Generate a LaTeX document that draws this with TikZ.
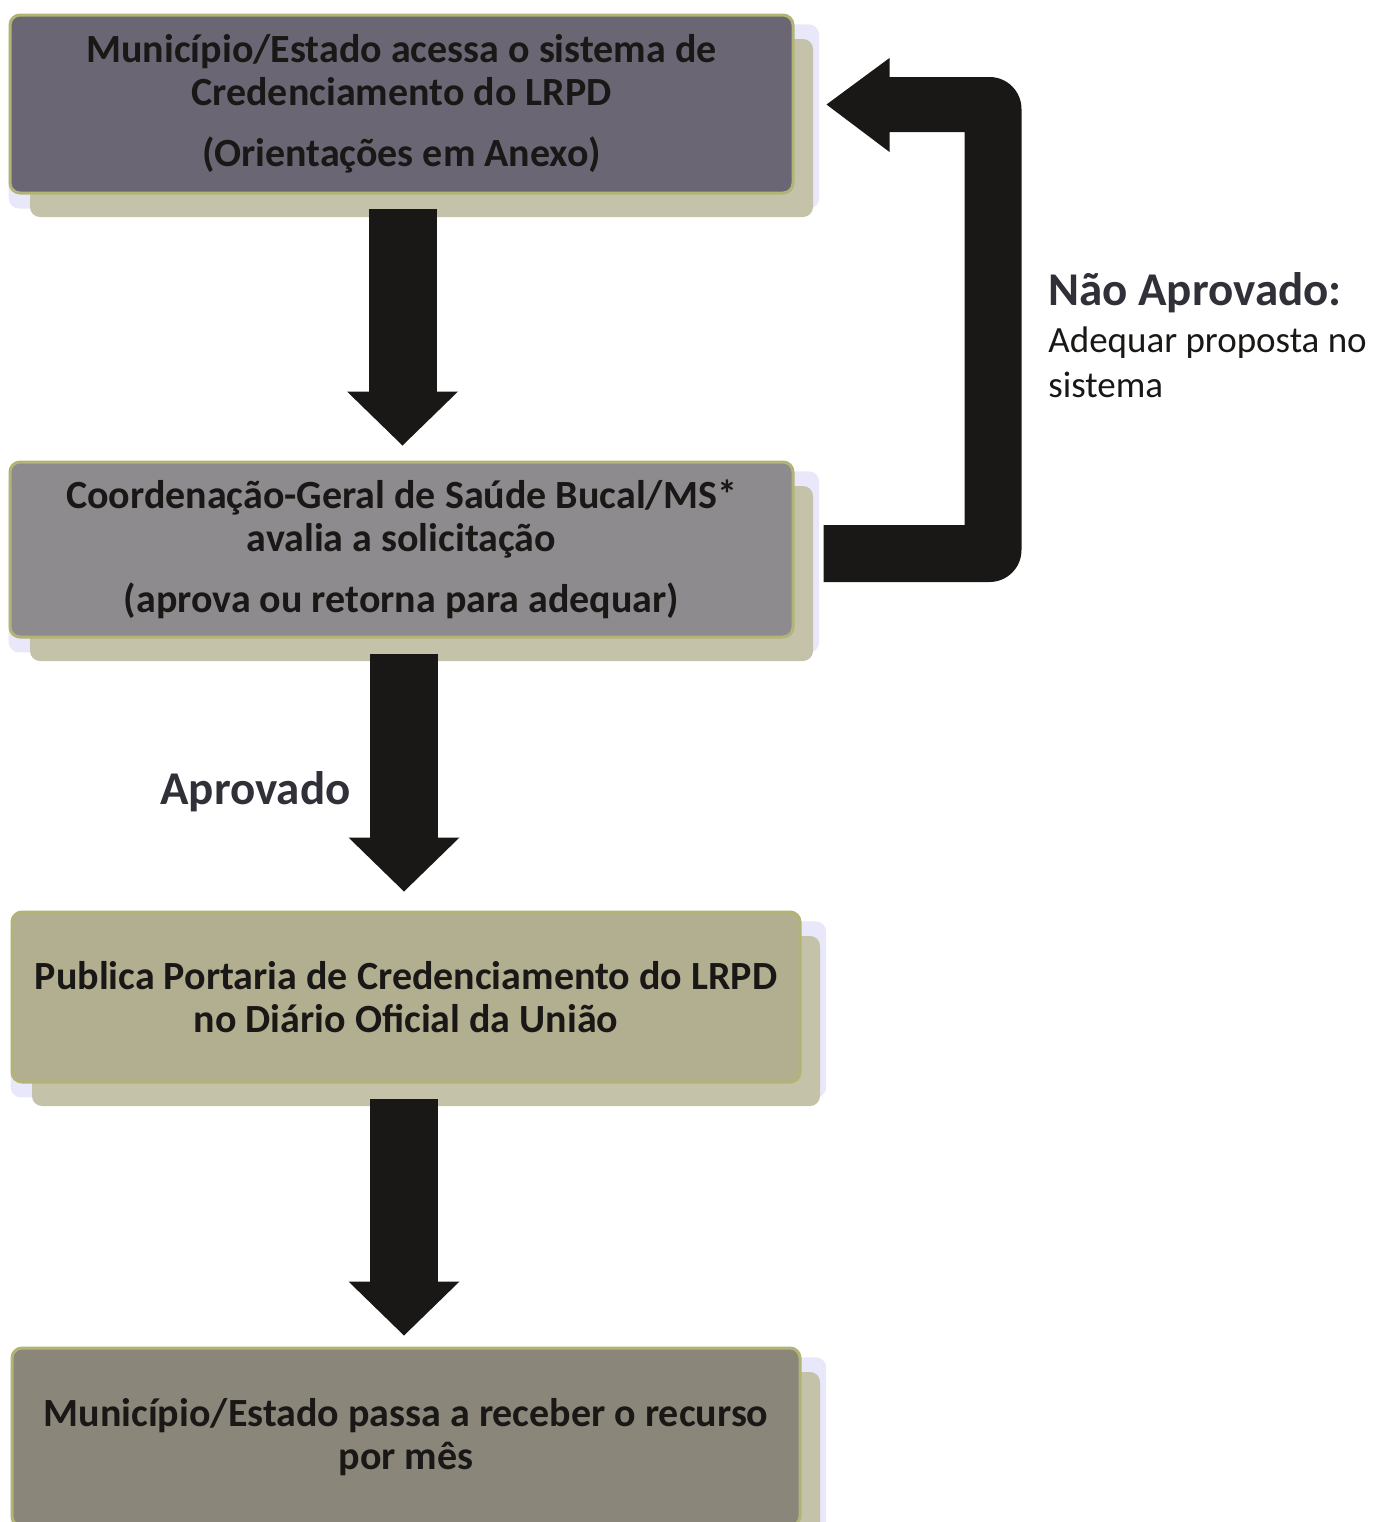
\documentclass[tikz,border=0pt]{standalone}
\usepackage{fontspec}
\setmainfont{Carlito}
\usetikzlibrary{arrows.meta,calc,shadows}
\definecolor{bxA}{RGB}{106,102,116}
\definecolor{bxB}{RGB}{142,139,143}
\definecolor{bxC}{RGB}{178,174,144}
\definecolor{bxD}{RGB}{138,134,122}
\definecolor{shA}{RGB}{196,194,168}
\definecolor{halo}{RGB}{208,202,245}
\definecolor{rim}{RGB}{178,180,118}
\definecolor{ink}{RGB}{26,24,22}
\definecolor{lblink}{RGB}{48,48,56}
\begin{document}
\begin{tikzpicture}[x=0.5pt,y=-0.5pt,
  stepbox/.style={rounded corners=5pt, draw=rim, line width=1.5pt,
    general shadow={fill=halo, opacity=.45, shadow scale=1.035, shadow xshift=6pt, shadow yshift=-6pt},
    general shadow={fill=shA, shadow xshift=10pt, shadow yshift=-12pt},
    minimum width=391.5pt, inner sep=0pt, align=center,
    font=\bfseries\fontsize{20}{21.5}\selectfont, text=ink},
  blockarrow/.style={draw=ink, line width=34pt,
    -{Triangle[width=55.5pt,length=27pt,line width=0pt]}},
  returnarrow/.style={fill=ink, draw=none},
  lbl/.style={inner sep=0pt, font=\bfseries\fontsize{23.5}{28}\selectfont, text=lblink},
  sub/.style={inner sep=0pt, align=left, font=\fontsize{18.5}{22.5}\selectfont, text=ink}
]
\fill[white] (0,0) rectangle (1375,1522);
\useasboundingbox (0,0) rectangle (1375,1522);

\node[stepbox, fill=bxA, minimum height=89pt] (b1) at (401.5,104)
  {Município/Estado acessa o sistema de\\Credenciamento do LRPD\\[9pt](Orientações em Anexo)};
\node[stepbox, fill=bxB, minimum height=87.5pt] (b2) at (401.5,549.5)
  {Coordenação-Geral de Saúde Bucal/MS*\\avalia a solicitação\\[9pt](aprova ou retorna para adequar)};
\node[stepbox, fill=bxC, minimum width=394pt, minimum height=85pt] (b3) at (406,997)
  {Publica Portaria de Credenciamento do LRPD\\no Diário Oficial da União};
\node[stepbox, fill=bxD, minimum width=394pt, minimum height=89pt] (b4) at (406,1437)
  {Município/Estado passa a receber o recurso\\por mês};

\draw[blockarrow] ($(b1.south)+(1,14)$) -- ($(b2.north)+(1,-15)$);
\draw[blockarrow] ($(b2.south)+(2.5,15)$) -- ($(b3.north)+(-2,-19)$);
\draw[blockarrow] ($(b3.south)+(-2,15)$) -- ($(b4.north)+(-2,-11)$);

% return arrow: from b2 (right side) back up to b1
\coordinate (rs) at ($(b2.east)+(29,4)$);
\coordinate (rtip) at ($(b1.east)+(32,0.5)$);
\fill[returnarrow]
  ($(rs)+(0,-28.5)$) -- ($(rs)+(141,-28.5)$) -- ($(rtip)+(138,27.5)$)
  -- ($(rtip)+(63,27.5)$) -- ($(rtip)+(63,47.5)$) -- (rtip)
  -- ($(rtip)+(63,-46.5)$) -- ($(rtip)+(63,-27.5)$)
  -- ($(rtip)+(163,-27.5)$)
  .. controls ($(rtip)+(180.7,-27.5)$) and ($(rtip)+(195,-13.2)$) .. ($(rtip)+(195,4.5)$)
  -- ($(rs)+(198,-3.5)$)
  .. controls ($(rs)+(198,14.2)$) and ($(rs)+(183.7,28.5)$) .. ($(rs)+(166,28.5)$)
  -- ($(rs)+(0,28.5)$) -- cycle;

\node[lbl, anchor=base west] (ap) at (160,804) {Aprovado};
\node[lbl, anchor=base west] (na) at (1048,305) {Não Aprovado:};
\node[sub, anchor=north west] (aq) at (1048,326) {Adequar proposta no\\sistema};
\end{tikzpicture}
\end{document}
